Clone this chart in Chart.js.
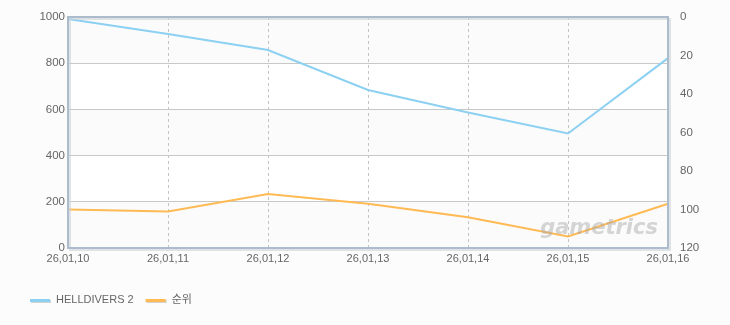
<!DOCTYPE html>
<html>
<head>
<meta charset="utf-8">
<script src="https://cdn.jsdelivr.net/npm/chart.js@4.4.1/dist/chart.umd.min.js"></script>
<style>
  html, body { margin: 0; padding: 0; background: #fcfcfc; }
  #wrap { width: 730px; height: 325px; }
</style>
</head>
<body>
<div id="wrap"><canvas id="grafico"></canvas></div>
<script>
var etiquetas = ['26,01,10', '26,01,11', '26,01,12', '26,01,13', '26,01,14', '26,01,15', '26,01,16'];
var nombres = ['HELLDIVERS 2', '순위'];
var valores = [991, 926, 857, 684, 587, 496, 822];
var rangos = [100, 101, 92, 97, 104, 114, 97];
var ticksIzq = [0, 200, 400, 600, 800, 1000];
var ticksDer = [0, 20, 40, 60, 80, 100, 120];

var colores = ['rgba(140, 208, 242, 1)', 'rgba(255, 186, 84, 1)'];
var fuente = "'Liberation Sans', 'Noto Sans CJK KR', sans-serif";

// fondo con franjas, marco y leyenda dibujados a mano
var fondo = {
  id: 'fondo',
  beforeDraw: function (chart) {
    var c = chart.ctx, a = chart.chartArea, y = chart.scales.y;
    c.save();
    c.fillStyle = '#fcfcfc';
    c.fillRect(0, 0, chart.width, chart.height);
    for (var i = 0; i < ticksIzq.length - 1; i++) {
      var y0 = y.getPixelForValue(ticksIzq[i]);
      var y1 = y.getPixelForValue(ticksIzq[i + 1]);
      c.fillStyle = (i % 2 == 0) ? '#fbfbfb' : '#ffffff';
      c.fillRect(a.left, y1, a.right - a.left, y0 - y1);
    }
    c.restore();
  },
  afterDatasetsDraw: function (chart) {
    var c = chart.ctx, a = chart.chartArea;
    c.save();
    // marca de agua
    c.font = "italic bold 21px 'DejaVu Sans', sans-serif";
    c.fillStyle = 'rgba(165, 165, 165, 0.45)';
    c.textAlign = 'right';
    c.textBaseline = 'alphabetic';
    c.fillText('gametrics', a.right - 10, a.bottom - 14);
    // sombra y marco
    c.strokeStyle = 'rgba(205, 210, 215, 0.6)';
    c.lineWidth = 2;
    c.strokeRect(a.left + 2, a.top + 2, a.right - a.left, a.bottom - a.top);
    c.strokeStyle = '#adbccc';
    c.lineWidth = 2;
    c.strokeRect(a.left, a.top, a.right - a.left, a.bottom - a.top);
    c.restore();
  },
  afterDraw: function (chart) {
    var c = chart.ctx;
    c.save();
    c.font = '11px ' + fuente;
    c.textBaseline = 'middle';
    c.textAlign = 'left';
    var x = 30, yy = 300;
    for (var i = 0; i < nombres.length; i++) {
      c.fillStyle = 'rgba(210, 210, 210, 1)';
      c.fillRect(x + 1, yy, 20, 3);
      c.fillStyle = colores[i];
      c.fillRect(x, yy - 1, 20, 3);
      c.fillStyle = '#666666';
      c.fillText(nombres[i], x + 26, yy);
      x += 26 + c.measureText(nombres[i]).width + 12;
    }
    c.restore();
  }
};

var ctx = document.getElementById('grafico');

var grafico = new Chart(ctx, {
  type: 'line',
  plugins: [fondo],
  data: {
    labels: etiquetas,
    datasets: [{
      label: nombres[0],
      data: valores,
      borderColor: colores[0],
      borderWidth: 2,
      pointRadius: 0,
      tension: 0,
      yAxisID: 'y'
    }, {
      label: nombres[1],
      data: rangos,
      borderColor: colores[1],
      borderWidth: 2,
      pointRadius: 0,
      tension: 0,
      yAxisID: 'y2'
    }]
  },
  options: {
    responsive: true,
    maintainAspectRatio: false,
    animation: false,
    layout: { padding: { top: 17, left: 0, right: 0, bottom: 0 } },
    plugins: {
      legend: { display: false },
      tooltip: { enabled: false }
    },
    scales: {
      x: {
        offset: false,
        grid: { color: '#c4c4c4', lineWidth: 1, drawTicks: false },
        border: { display: false, dash: [3, 3] },
        ticks: { color: '#666666', font: { family: fuente, size: 11 }, padding: 4, maxRotation: 0, autoSkip: false },
        afterFit: function (s) { s.height = 77; }
      },
      y: {
        position: 'left',
        min: 0,
        max: 1000,
        afterBuildTicks: function (s) { s.ticks = ticksIzq.map(function (v) { return { value: v }; }); },
        grid: { color: '#c8c8c8', lineWidth: 1, drawTicks: false },
        border: { display: false },
        ticks: { color: '#666666', font: { family: fuente, size: 11.5 }, padding: 3, callback: function (v) { return String(v); } },
        afterFit: function (s) { s.width = 68; }
      },
      y2: {
        position: 'right',
        reverse: true,
        min: 0,
        max: 120,
        afterBuildTicks: function (s) { s.ticks = ticksDer.map(function (v) { return { value: v }; }); },
        grid: { display: false },
        border: { display: false },
        ticks: { color: '#666666', font: { family: fuente, size: 11.5 }, padding: 4, callback: function (v) { return String(v); } },
        afterFit: function (s) { s.width = 62; }
      }
    }
  }
});
</script>
</body>
</html>
